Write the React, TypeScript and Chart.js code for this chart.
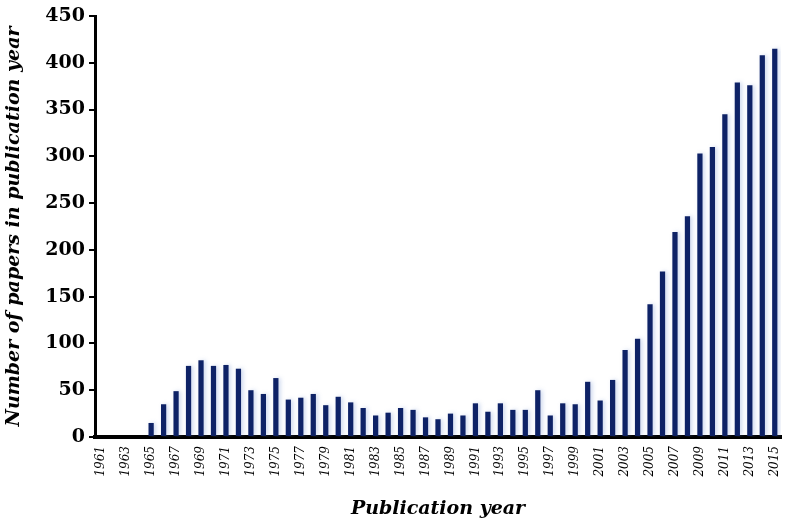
import React, { useEffect, useRef } from "react";
import { Chart, registerables } from "chart.js";

Chart.register(...registerables);

const years: string[] = [
  "1961", "1962", "1963", "1964", "1965", "1966", "1967", "1968", "1969", "1970",
  "1971", "1972", "1973", "1974", "1975", "1976", "1977", "1978", "1979", "1980",
  "1981", "1982", "1983", "1984", "1985", "1986", "1987", "1988", "1989", "1990",
  "1991", "1992", "1993", "1994", "1995", "1996", "1997", "1998", "1999", "2000",
  "2001", "2002", "2003", "2004", "2005", "2006", "2007", "2008", "2009", "2010",
  "2011", "2012", "2013", "2014", "2015",
];

const papers: number[] = [
  0, 0, 0, 0, 15, 35, 49, 76, 82, 76,
  77, 73, 50, 46, 63, 40, 42, 46, 34, 43,
  37, 31, 23, 26, 31, 29, 21, 19, 25, 23,
  36, 27, 36, 29, 29, 50, 23, 36, 35, 59,
  39, 61, 93, 105, 142, 177, 219, 236, 303, 310,
  345, 379, 376, 408, 415,
];

const yTicks: number[] = [0, 50, 100, 150, 200, 250, 300, 350, 400, 450];

const xTitle = "Publication year";
const yTitle = "Number of papers in publication year";

const FONT = "'DejaVu Serif', serif";

const shadowPlugin = {
  id: "barShadow",
  beforeDatasetsDraw(chart: any) {
    const ctx = chart.ctx;
    ctx.save();
    ctx.shadowColor = "rgba(110,140,205,0.35)";
    ctx.shadowBlur = 4;
    ctx.shadowOffsetX = 2;
    ctx.shadowOffsetY = 0;
  },
  afterDatasetsDraw(chart: any) {
    chart.ctx.restore();
  },
};

export default function App() {
  const ref = useRef<HTMLCanvasElement | null>(null);

  useEffect(() => {
    if (!ref.current) return;
    const chart = new Chart(ref.current, {
      type: "bar",
      data: {
        labels: years,
        datasets: [
          {
            data: papers,
            backgroundColor: "#0e2266",
            borderWidth: 0,
            barPercentage: 0.42,
            categoryPercentage: 1.0,
          },
        ],
      },
      plugins: [shadowPlugin],
      options: {
        responsive: false,
        animation: false,
        maintainAspectRatio: false,
        layout: { padding: { top: 16, right: 8, left: 0, bottom: 0 } },
        plugins: {
          legend: { display: false },
          tooltip: { enabled: false },
        },
        scales: {
          x: {
            grid: { display: false, drawTicks: false },
            border: { display: true, color: "#000", width: 4 },
            ticks: {
              autoSkip: false,
              minRotation: 90,
              maxRotation: 90,
              padding: 9,
              color: "#000",
              font: { family: FONT, style: "italic", size: 12 },
              callback: (_v: any, i: number) => (i % 2 === 0 ? years[i] : ""),
            },
            title: {
              display: true,
              text: xTitle,
              color: "#000",
              font: { family: FONT, style: "italic", weight: "bold", size: 19 },
              padding: { top: 0, bottom: 3 },
            },
            afterFit: (scale: any) => {
              scale.height = 86;
              scale.paddingLeft = 0;
              scale.paddingRight = 0;
            },
          },
          y: {
            min: 0,
            max: 450,
            afterBuildTicks: (scale: any) => {
              scale.ticks = yTicks.map((v) => ({ value: v }));
            },
            grid: {
              drawOnChartArea: false,
              drawTicks: true,
              tickLength: 6,
              color: "#000",
              lineWidth: 2,
            },
            border: { display: true, color: "#000", width: 3 },
            ticks: {
              color: "#000",
              padding: 4,
              font: { family: FONT, weight: "bold", size: 19 },
            },
            title: {
              display: true,
              text: yTitle,
              color: "#000",
              font: { family: FONT, style: "italic", weight: "bold", size: 19 },
              padding: { top: 3, bottom: 0 },
            },
            afterFit: (scale: any) => {
              scale.width = 95;
            },
          },
        },
      },
    } as any);
    return () => chart.destroy();
  }, []);

  return (
    <div style={{ position: "absolute", left: 0, top: 0, width: 789, height: 523, background: "#fff" }}>
      <canvas ref={ref} width={789} height={523} style={{ width: 789, height: 523 }} />
    </div>
  );
}
